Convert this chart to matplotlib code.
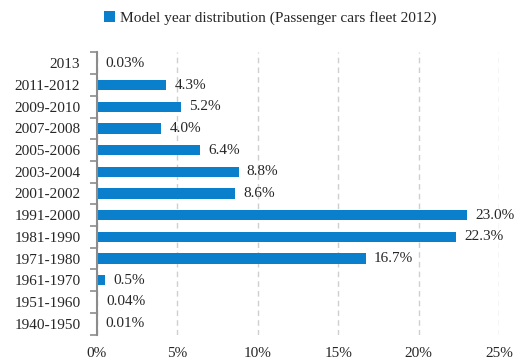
import matplotlib
matplotlib.use("Agg")
import matplotlib.pyplot as plt
import numpy as np

# model year categories, top to bottom as shown
categories = ["2013", "2011-2012", "2009-2010", "2007-2008", "2005-2006",
              "2003-2004", "2001-2002", "1991-2000", "1981-1990", "1971-1980",
              "1961-1970", "1951-1960", "1940-1950"]
shares = [0.03, 4.3, 5.2, 4.0, 6.4, 8.8, 8.6, 23.0, 22.3, 16.7, 0.5, 0.04, 0.01]
share_labels = ["0.03%", "4.3%", "5.2%", "4.0%", "6.4%", "8.8%", "8.6%",
                "23.0%", "22.3%", "16.7%", "0.5%", "0.04%", "0.01%"]
x_ticks = [0, 5, 10, 15, 20, 25]
x_tick_labels = ["0%", "5%", "10%", "15%", "20%", "25%"]
legend_label = "Model year distribution (Passenger cars fleet 2012)"

bar_color = "#0a7fcc"
text_color = "#262626"

plt.rcParams["font.family"] = ["Liberation Serif"]
plt.rcParams["font.size"] = 11

fig = plt.figure(figsize=(5.24, 3.63), dpi=100)
ax = fig.add_axes([0.1851, 0.0785, 0.7672, 0.7769])

n = len(categories)
y = np.arange(n)[::-1]
bars = ax.barh(y, shares, height=0.48, color=bar_color, label=legend_label, zorder=3)
ax.bar_label(bars, labels=share_labels, padding=6, color=text_color, fontsize=11)

ax.set_xlim(0, 25)
ax.set_ylim(-0.5, n - 0.5)

ax.set_xticks(x_ticks)
ax.set_xticklabels(x_tick_labels, color=text_color)
ax.tick_params(axis="x", length=0, pad=9)

ax.set_yticks(y)
ax.set_yticklabels(categories, color=text_color)
ax.set_yticks(np.arange(-0.5, n), minor=True)
ax.tick_params(axis="y", which="major", length=0, pad=12)
ax.tick_params(axis="y", which="minor", length=5, width=1.2, color="#8c8c8c", direction="out")

ax.grid(axis="x", color="#cfcfcf", linestyle=(0, (4, 3)), linewidth=1, zorder=0)

for side in ["top", "right", "bottom"]:
    ax.spines[side].set_visible(False)
ax.spines["left"].set_color("#8c8c8c")
ax.spines["left"].set_linewidth(1.5)
ax.spines["left"].set_zorder(4)

fig.legend(loc="center", bbox_to_anchor=(0.516, 0.951), frameon=False,
           handlelength=0.7, handleheight=0.7, handletextpad=0.35,
           fontsize=11.1, labelcolor=text_color)

fig.savefig("out.png", dpi=100)
